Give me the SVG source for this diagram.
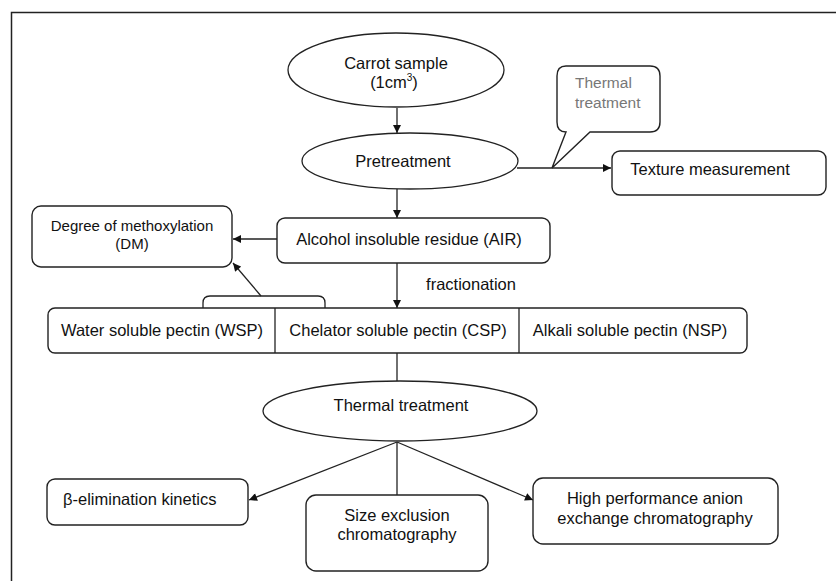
<svg xmlns="http://www.w3.org/2000/svg" width="836" height="581" viewBox="0 0 836 581">
<style>
  .box { fill: #fff; stroke: #222; stroke-width: 1.4; }
  .ell { fill: #fff; stroke: #222; stroke-width: 1.3; }
  .t { font-family: "Liberation Sans", Arial, sans-serif; font-size: 16.5px; fill: #111; text-anchor: middle; }
  .s { font-size: 15px; }
  .g { fill: #777; font-size: 15.5px; text-anchor: start; }
  .l { text-anchor: start; }
  .ln { stroke: #222; stroke-width: 1.3; fill: none; }
  .ar { marker-end: url(#ah); }
</style>
<defs>
  <marker id="ah" viewBox="0 0 10 10" refX="10" refY="5" markerWidth="9" markerHeight="8" markerUnits="userSpaceOnUse" orient="auto">
    <path d="M0,0 L10,5 L0,10 z" fill="#111"/>
  </marker>
</defs>
<rect x="0" y="0" width="836" height="581" fill="#fff"/>
<rect x="11.5" y="12.5" width="900" height="700" fill="none" stroke="#222" stroke-width="1.5"/>

<g id="connectors">
  <line class="ln ar" x1="397" y1="108" x2="397" y2="133"/>
  <line class="ln ar" x1="397" y1="189" x2="397" y2="218"/>
  <line class="ln ar" x1="517" y1="168" x2="611" y2="168"/>
  <line class="ln ar" x1="277" y1="239" x2="233" y2="239"/>
  <line class="ln ar" x1="397" y1="263" x2="397" y2="308"/>
  <line class="ln ar" x1="261" y1="296" x2="233" y2="263"/>
  <line class="ln" x1="397" y1="353" x2="397" y2="381"/>
  <line class="ln ar" x1="397" y1="442" x2="249" y2="500"/>
  <line class="ln" x1="397" y1="442" x2="397" y2="495"/>
  <line class="ln ar" x1="397" y1="442" x2="533" y2="500"/>
</g>

<g id="carrot">
  <ellipse class="ell" cx="396" cy="70" rx="108" ry="37"/>
  <text class="t" x="396" y="69">Carrot sample</text>
  <text class="t" x="394" y="88">(1cm<tspan font-size="10" dy="-7">3</tspan><tspan dy="7">)</tspan></text>
</g>

<g id="pretreatment">
  <ellipse class="ell" cx="410" cy="161" rx="108" ry="28"/>
  <text class="t" x="403" y="167">Pretreatment</text>
</g>

<g id="callout">
  <path class="box" d="M566,66 L650,66 Q660,66 660,76 L660,122 Q660,132 650,132 L590,132 L552,168 L566,132 Q557,132 557,122 L557,76 Q557,66 566,66 Z"/>
  <text class="t g" x="575" y="88">Thermal</text>
  <text class="t g" x="575" y="108">treatment</text>
</g>

<g id="texture">
  <rect class="box" x="612" y="151" width="214" height="44" rx="8"/>
  <text class="t" x="710" y="175">Texture measurement</text>
</g>

<g id="air">
  <rect class="box" x="277" y="218" width="273" height="45" rx="8"/>
  <text class="t" x="409" y="245">Alcohol insoluble residue (AIR)</text>
</g>

<g id="dm">
  <rect class="box" x="32" y="206" width="200" height="61" rx="9"/>
  <text class="t s" x="132" y="231">Degree of methoxylation</text>
  <text class="t s" x="132" y="249">(DM)</text>
</g>

<text class="t" x="471" y="290">fractionation</text>

<g id="fractions">
  <path class="ln" d="M203,308 L203,303 Q203,296 210,296 L318,296 Q325,296 325,303 L325,308"/>
  <rect class="box" x="48" y="308" width="699" height="45" rx="7"/>
  <line class="ln" x1="275" y1="308" x2="275" y2="353"/>
  <line class="ln" x1="519" y1="308" x2="519" y2="353"/>
  <text class="t" x="162" y="336">Water soluble pectin (WSP)</text>
  <text class="t" x="398" y="336">Chelator soluble pectin (CSP)</text>
  <text class="t" x="630" y="336">Alkali soluble pectin (NSP)</text>
</g>

<g id="thermal">
  <ellipse class="ell" cx="400" cy="411" rx="137" ry="30"/>
  <text class="t" x="401" y="411">Thermal treatment</text>
</g>

<g id="beta">
  <rect class="box" x="47" y="479" width="201" height="46" rx="8"/>
  <text class="t l" x="63" y="505">β-elimination kinetics</text>
</g>

<g id="sec">
  <rect class="box" x="306" y="495" width="182" height="76" rx="10"/>
  <text class="t" x="397" y="521">Size exclusion</text>
  <text class="t" x="397" y="540">chromatography</text>
</g>

<g id="hpaec">
  <rect class="box" x="533" y="478" width="245" height="66" rx="10"/>
  <text class="t" x="655" y="504">High performance anion</text>
  <text class="t" x="655" y="524">exchange chromatography</text>
</g>
</svg>
